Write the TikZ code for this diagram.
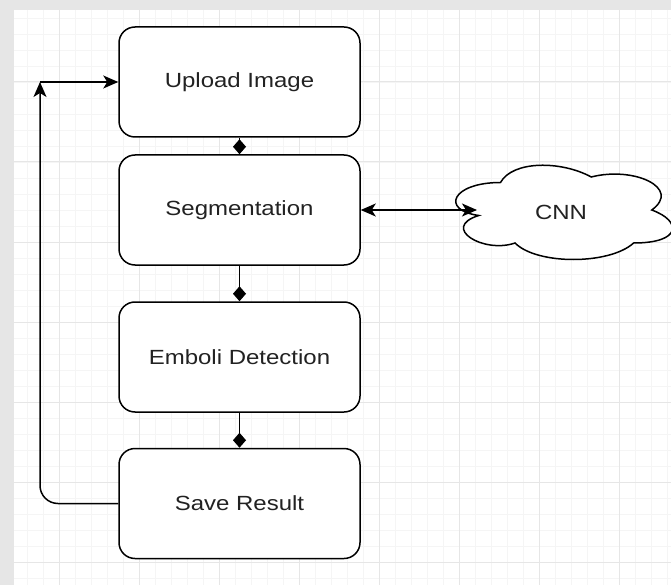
\documentclass[tikz,border=0pt]{standalone}
\usepackage{fontspec}
\setmainfont{Liberation Sans}[FakeStretch=1.17]
\usetikzlibrary{arrows.meta}
\definecolor{frame}{RGB}{230,230,230}
\definecolor{gridminor}{RGB}{245,245,245}
\definecolor{gridmajor}{RGB}{230,230,230}
\definecolor{ink}{RGB}{34,34,34}
\tikzset{
	stepbox/.style={draw=black, line width=1.5pt, rounded corners=16pt, fill=white,
		minimum width=241pt, minimum height=110pt, text=ink,
		font=\fontsize{20.5}{24}\selectfont},
	flow/.style={line width=1.5pt, -{Stealth[length=15pt,width=13pt,inset=4pt]}},
	both/.style={line width=1.5pt, {Stealth[length=15pt,width=13pt,inset=4pt]}-{Stealth[length=15pt,width=13pt,inset=4pt]}},
	link/.style={line width=1.5pt, -{Diamond[length=15pt,width=13pt]}},
}

\begin{document}
\begin{tikzpicture}[x=1pt, y=-1pt]
		%%%%% START %%%%%
		
		\useasboundingbox (0, 0) rectangle (671, 585);
		\fill[frame] (0, 0) rectangle (671, 585);
		\fill[white] (14, 10) rectangle (671, 585);
		
		% grid
		\foreach \x in {27,43,...,667} \draw[gridminor, line width=0.8pt] (\x, 10) -- (\x, 585);
		\foreach \y in {18,34,...,578} \draw[gridminor, line width=0.8pt] (14, \y) -- (671, \y);
		\foreach \x in {59,139,...,619} \draw[gridmajor, line width=1pt] (\x, 10) -- (\x, 585);
		\foreach \y in {82,162,...,562} \draw[gridmajor, line width=1pt] (14, \y) -- (671, \y);
		
		% steps
		\node[stepbox] (upload) at (239.5, 82) {Upload Image};
		\node[stepbox] (seg) at (239.5, 210) {Segmentation};
		\node[stepbox] (emboli) at (239.5, 357) {Emboli Detection};
		\node[stepbox] (save) at (239.5, 503.5) {Save Result};
		
		\draw[link] (upload.south) -- (seg.north);
		\draw[link] (seg.south) -- (emboli.north);
		\draw[link] (emboli.south) -- (save.north);
		
		% cloud
		\begin{scope}[shift={(440, 155)}, x=242pt, y=-110pt]
			\draw[line width=1.5pt, fill=white] (0.25, 0.25) .. controls (0.05, 0.25) and (0, 0.5) .. (0.16, 0.55)
				.. controls (0, 0.66) and (0.18, 0.9) .. (0.31, 0.8)
				.. controls (0.4, 1) and (0.7, 1) .. (0.8, 0.8)
				.. controls (1, 0.8) and (1, 0.6) .. (0.875, 0.5)
				.. controls (1, 0.3) and (0.8, 0.1) .. (0.625, 0.2)
				.. controls (0.5, 0.05) and (0.3, 0.05) .. (0.25, 0.25) -- cycle;
		\end{scope}
		\node[text=ink, font=\fontsize{20.5}{24}\selectfont] (cnn) at (561, 212) {CNN};
		\coordinate (cnnin) at (477, 210);
		\draw[both] (seg.east) -- (cnnin);
		
		% back to start
		\coordinate (turn) at (40, 82);
		\draw[flow, rounded corners=18pt] (save.west) -| (turn);
		\draw[flow] (turn) -- (upload.west);
		
		%%%%% END %%%%%
	\end{tikzpicture}
\end{document}
